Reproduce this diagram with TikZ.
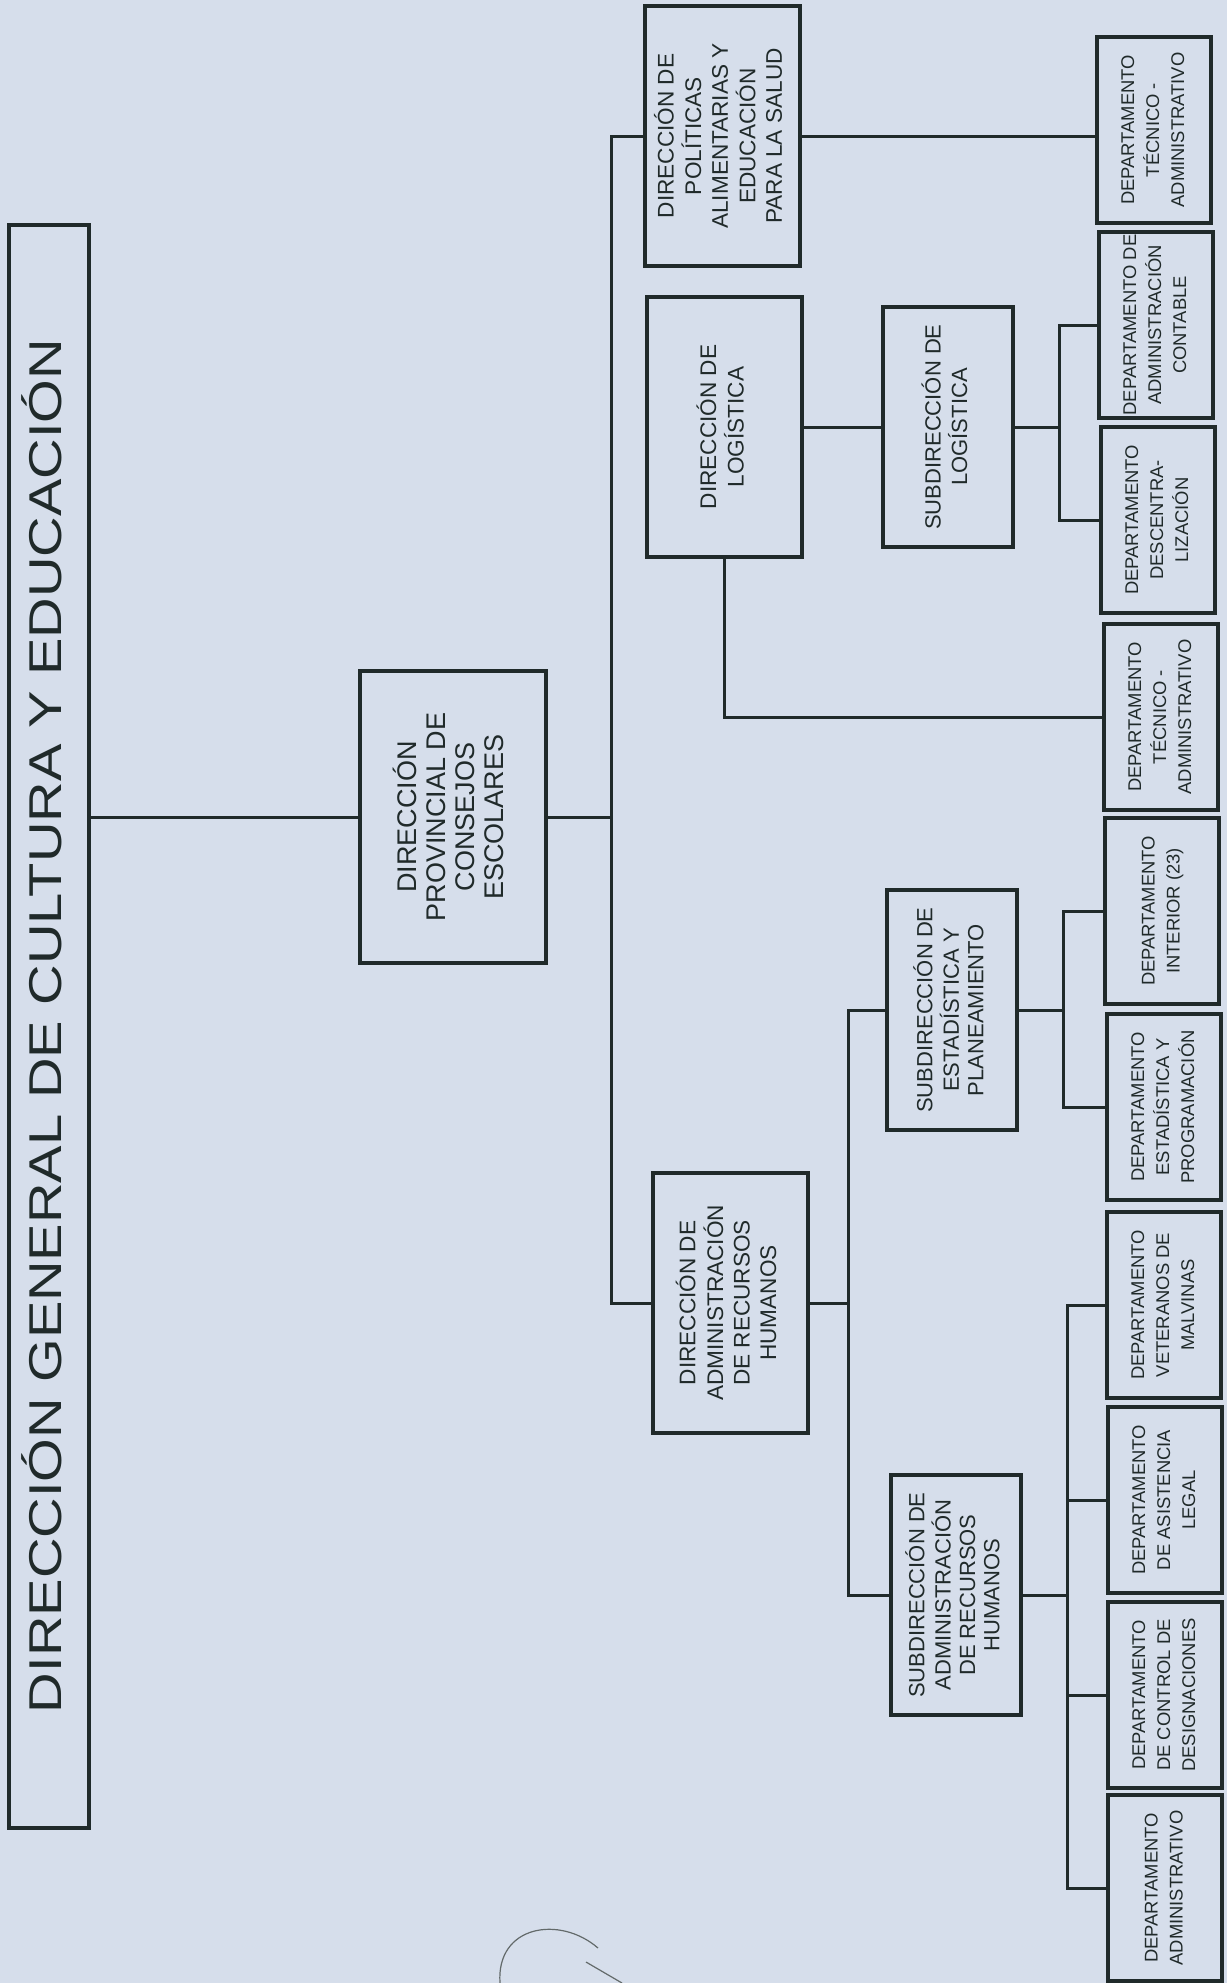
\documentclass[tikz,border=0pt]{standalone}
\usepackage{fontspec}
\setmainfont{Liberation Sans}
\usepackage{graphicx}
\definecolor{paper}{RGB}{214,222,235}
\definecolor{ink}{RGB}{32,42,42}
\newcommand{\vtxt}[1]{\rotatebox{90}{\begin{tabular}{@{}c@{}}#1\end{tabular}}}

\begin{document}
\begin{tikzpicture}[x=0.5pt, y=-0.5pt,
        box/.style={draw=ink, line width=2pt, inner sep=0pt, text=ink},
        titlebox/.style={box, minimum width=40pt, minimum height=801.5pt, font=\fontsize{23}{26}\selectfont},
        provbox/.style={box, minimum width=93pt, minimum height=146pt, font=\fontsize{13.5}{14.5}\selectfont},
        dirbox/.style={box, minimum width=77.5pt, minimum height=130pt, font=\fontsize{11.3}{13.3}\selectfont},
        subbox/.style={box, minimum width=65pt, minimum height=120pt, font=\fontsize{11}{12.2}\selectfont},
        deptbox/.style={box, minimum width=57pt, minimum height=93pt, font=\fontsize{9.2}{12.5}\selectfont},
        link/.style={draw=ink, line width=1.5pt}
    ]
        % papel
        \useasboundingbox (0,0) rectangle (1227,1983);
        \fill[paper] (0,0) rectangle (1227,1983);

        % Dirección general
        \node[titlebox] (dg) at (49, 1026) {\vtxt{\scalebox{1.22}[1]{DIRECCIÓN GENERAL DE CULTURA Y EDUCACIÓN}}};
        \node[provbox] (prov) at (453, 817) {\vtxt{DIRECCIÓN\\PROVINCIAL DE\\CONSEJOS\\ESCOLARES}};

        % Direcciones
        \node[dirbox] (pol) at (722, 136) {\vtxt{DIRECCIÓN DE\\POLÍTICAS\\ALIMENTARIAS Y\\EDUCACIÓN\\PARA LA SALUD}};
        \node[dirbox] (log) at (724, 427) {\vtxt{DIRECCIÓN DE\\LOGÍSTICA}};
        \node[dirbox] (rrhh) at (730, 1303) {\vtxt{DIRECCIÓN DE\\ADMINISTRACIÓN\\DE RECURSOS\\HUMANOS}};

        % Subdirecciones
        \node[subbox] (sublog) at (948, 427) {\vtxt{SUBDIRECCIÓN DE\\LOGÍSTICA}};
        \node[subbox] (subest) at (952, 1010) {\vtxt{SUBDIRECCIÓN DE\\ESTADÍSTICA Y\\PLANEAMIENTO}};
        \node[subbox] (subrrhh) at (956, 1595) {\vtxt{SUBDIRECCIÓN DE\\ADMINISTRACIÓN\\DE RECURSOS\\HUMANOS}};

        % Departamentos
        \node[deptbox] (d1) at (1154, 130) {\vtxt{DEPARTAMENTO\\TÉCNICO -\\ADMINISTRATIVO}};
        \node[deptbox] (d2) at (1156, 325) {\vtxt{DEPARTAMENTO DE\\ADMINISTRACIÓN\\CONTABLE}};
        \node[deptbox] (d3) at (1158, 520) {\vtxt{DEPARTAMENTO\\DESCENTRA-\\LIZACIÓN}};
        \node[deptbox] (d4) at (1161, 717) {\vtxt{DEPARTAMENTO\\TÉCNICO -\\ADMINISTRATIVO}};
        \node[deptbox] (d5) at (1162, 911) {\vtxt{DEPARTAMENTO\\INTERIOR (23)}};
        \node[deptbox] (d6) at (1164, 1107) {\vtxt{DEPARTAMENTO\\ESTADÍSTICA Y\\PROGRAMACIÓN}};
        \node[deptbox] (d7) at (1164, 1305) {\vtxt{DEPARTAMENTO\\VETERANOS DE\\MALVINAS}};
        \node[deptbox] (d8) at (1165, 1500) {\vtxt{DEPARTAMENTO\\DE ASISTENCIA\\LEGAL}};
        \node[deptbox] (d9) at (1165, 1695) {\vtxt{DEPARTAMENTO\\DE CONTROL DE\\DESIGNACIONES}};
        \node[deptbox] (d10) at (1165, 1888) {\vtxt{DEPARTAMENTO\\ADMINISTRATIVO}};

        % barras verticales
        \coordinate (tk) at (611, 0);
        \coordinate (bl) at (1059, 0);
        \coordinate (br) at (848, 0);
        \coordinate (be) at (1063, 0);
        \coordinate (bs) at (1067, 0);

        % conexiones
        \draw[link] (prov.west) -- (prov.west -| dg.east);
        \draw[link] (prov.east) -- (prov.east -| tk);
        \draw[link] (pol.west) -| (tk |- rrhh.west) -- (rrhh.west);
        \draw[link] (pol.east) -- (pol.east -| d1.west);
        \draw[link] (log.east) -- (sublog.west);
        \draw[link] (log.south) |- (d4.west);
        \draw[link] (sublog.east) -- (sublog.east -| bl);
        \draw[link] (d2.west) -| (bl |- d3.west) -- (d3.west);
        \draw[link] (rrhh.east) -- (rrhh.east -| br);
        \draw[link] (subest.west) -| (br |- subrrhh.west) -- (subrrhh.west);
        \draw[link] (subest.east) -- (subest.east -| be);
        \draw[link] (d5.west) -| (be |- d6.west) -- (d6.west);
        \draw[link] (subrrhh.east) -- (subrrhh.east -| bs);
        \draw[link] (d7.west) -| (bs |- d10.west) -- (d10.west);
        \draw[link] (d8.west) -- (d8.west -| bs);
        \draw[link] (d9.west) -- (d9.west -| bs);

        % firma
        \draw[ink!70, line width=0.6pt] (500,1983) .. controls (496,1925) and (560,1915) .. (598,1948);
        \draw[ink!70, line width=0.6pt] (586,1962) -- (622,1983);
    \end{tikzpicture}
\end{document}
